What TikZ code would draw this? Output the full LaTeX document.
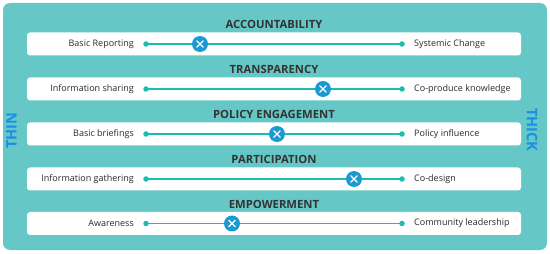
\documentclass[tikz,border=0pt]{standalone}
\usepackage{fontspec}
\setmainfont{Open Sans}
\definecolor{bgteal}{HTML}{66C8C6}
\definecolor{lineteal}{HTML}{1CBCB0}
\definecolor{markblue}{HTML}{1B9AD2}
\definecolor{sideblue}{HTML}{1A8FE3}
\definecolor{titlegray}{HTML}{333333}
\definecolor{txtgray}{HTML}{2A2A2A}
\tikzset{
  barbox/.style={fill=white, rounded corners=3pt, draw=none},
  rowtitle/.style={font=\fontsize{11.3}{13}\selectfont\bfseries, text=titlegray, inner sep=0pt},
  lefttxt/.style={font=\fontsize{9}{11}\selectfont, text=txtgray, anchor=east, inner sep=0pt},
  righttxt/.style={font=\fontsize{9}{11}\selectfont, text=txtgray, anchor=west, inner sep=0pt},
  enddot/.style={circle, fill=lineteal, minimum size=5.5pt, inner sep=0pt},
  marker/.style={circle, fill=markblue, minimum size=16pt, inner sep=0pt},
  track/.style={draw=lineteal, line width=1.4pt},
  sidelab/.style={font=\fontsize{14.5}{16}\selectfont\bfseries, text=sideblue, inner sep=0pt}
}
\begin{document}
\begin{tikzpicture}[x=1pt,y=-1pt]
\useasboundingbox (0,0) rectangle (550,254);
\fill[bgteal, rounded corners=7pt] (3,3) rectangle (547,250);
\node[sidelab, rotate=90] (thin) at (11.5,130.5) {THIN};
\node[sidelab, rotate=-90] (thick) at (532,130) {THICK};
\foreach \i/\yy/\tt/\lt/\rt/\mx in {
  1/44/ACCOUNTABILITY/Basic Reporting/Systemic Change/200,
  2/89/TRANSPARENCY/Information sharing/Co-produce knowledge/323,
  3/134/POLICY ENGAGEMENT/Basic briefings/Policy influence/277,
  4/179/PARTICIPATION/Information gathering/Co-design/354,
  5/223.5/EMPOWERMENT/Awareness/Community leadership/232}{
  \fill[barbox] (27,\yy-11.5) rectangle (521,\yy+11.5);
  \node[rowtitle] (t\i) at (274,\yy-19.5) {\tt};
  \node[lefttxt] (l\i) at (134,\yy) {\lt};
  \node[righttxt] (r\i) at (414,\yy) {\rt};
  \node[enddot] (a\i) at (146,\yy) {};
  \node[enddot] (b\i) at (402,\yy) {};
  \draw[track] (a\i.center) -- (b\i.center);
  \node[marker] (m\i) at (\mx,\yy) {};
  \draw[white, line width=1.3pt, line cap=round] ([shift={(-3.2,-3.2)}]m\i.center) -- ([shift={(3.2,3.2)}]m\i.center)
    ([shift={(-3.2,3.2)}]m\i.center) -- ([shift={(3.2,-3.2)}]m\i.center);
}
\end{tikzpicture}
\end{document}
